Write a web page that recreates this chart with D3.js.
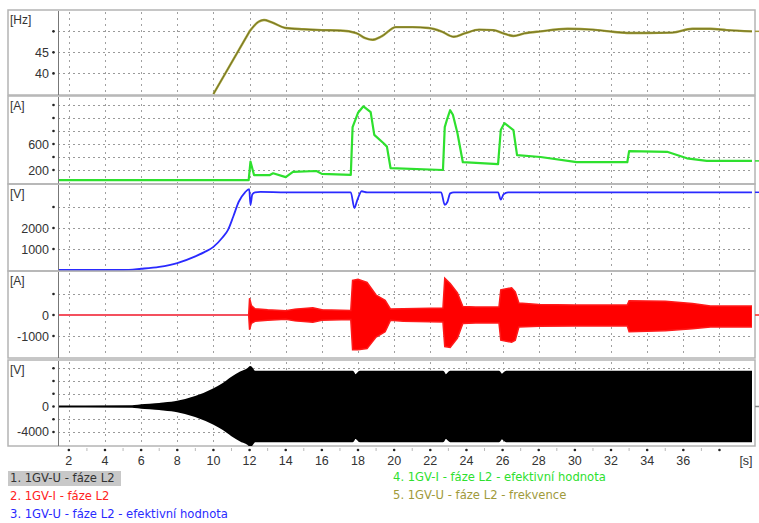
<!DOCTYPE html>
<html>
<head>
<meta charset="utf-8">
<script src="https://cdn.jsdelivr.net/npm/d3@7"></script>
<style>
  html, body { margin: 0; padding: 0; background: #fff; }
  svg { display: block; font-family: "Liberation Sans", Arial, sans-serif; }
</style>
</head>
<body>
<svg id="chart" width="759" height="523"></svg>
<script>
// ---- time axis ----
const timeTicks = [2, 4, 6, 8, 10, 12, 14, 16, 18, 20, 22, 24, 26, 28, 30, 32, 34, 36, 38];
const timeLabels = ["2", "4", "6", "8", "10", "12", "14", "16", "18", "20", "22", "24", "26", "28", "30", "32", "34", "36", ""];
const timeUnit = "[s]";

// ---- 5. frequency [Hz] ----
const freqT = [10.0, 12.0, 12.5, 12.8, 13.2, 14, 15, 16, 17, 17.9, 18.4, 18.8, 19.3, 20.1, 21, 21.9, 22.6, 23.3, 23.9, 24.7, 25.5, 26.0, 26.6, 27.2, 28.1, 29.6, 31, 32.1, 33, 34, 35.4, 36.5, 37.5, 38.4, 39.8];
const freqV = [35.1, 50.0, 52.3, 52.7, 52.2, 50.8, 50.5, 50.3, 50.2, 49.6, 48.4, 48.0, 48.8, 51.0, 51.0, 50.8, 50.0, 48.7, 49.5, 50.4, 50.3, 49.6, 48.9, 49.5, 50.0, 50.6, 50.4, 49.9, 49.6, 49.6, 49.7, 50.6, 50.6, 50.3, 50.0];

// ---- 4. RMS current [A] ----
const rmsIT = [1.4, 11.95, 12.05, 12.25, 13.1, 13.3, 14.0, 14.4, 15.7, 16.0, 17.6, 17.7, 18.0, 18.3, 18.7, 18.9, 19.4, 19.6, 19.8, 22.7, 22.8, 22.95, 23.1, 23.25, 23.5, 23.8, 25.75, 25.9, 26.1, 26.6, 26.8, 28.1, 30.1, 32.9, 33.0, 35.1, 36.2, 37.3, 39.8];
const rmsIV = [45, 45, 330, 120, 120, 150, 90, 170, 185, 140, 125, 860, 1080, 1180, 1090, 740, 615, 560, 230, 200, 860, 1000, 1120, 1050, 770, 320, 290, 815, 920, 815, 430, 400, 320, 320, 490, 480, 380, 340, 340];

// ---- 3. RMS voltage [V] ----
const rmsUT = [1.4, 5.0, 6.0, 7.0, 8.0, 9.0, 9.5, 10.0, 10.5, 10.8, 11.1, 11.4, 11.75, 11.98, 12.05, 12.15, 12.3, 12.6, 14, 17.6, 17.8, 17.95, 18.2, 18.5, 22.6, 22.8, 22.95, 23.1, 23.3, 25.75, 25.9, 26.05, 26.3, 39.8];
const rmsUV = [0, 0, 60, 150, 330, 650, 850, 1100, 1550, 1900, 2550, 3250, 3700, 3850, 3100, 3600, 3700, 3720, 3700, 3700, 2950, 3300, 3750, 3700, 3700, 3100, 3250, 3650, 3700, 3700, 3350, 3600, 3700, 3700];

// ---- 2. phase current envelope [A] ----
const curT  = [11.95, 12.0, 12.1, 12.3, 13, 14, 14.5, 15.5, 16, 17.6, 17.7, 18.0, 18.5, 19.0, 19.5, 19.8, 20.5, 22.7, 22.8, 23.1, 23.5, 23.8, 24.5, 25.8, 25.9, 26.5, 26.7, 26.9, 28, 30, 32.9, 33.0, 35, 36.5, 37.5, 39.8];
const curUp = [0, 800, 450, 300, 250, 200, 280, 350, 250, 220, 1650, 1700, 1550, 950, 700, 280, 300, 330, 1750, 1500, 1050, 400, 380, 380, 1200, 1300, 1100, 570, 500, 480, 480, 680, 650, 550, 430, 430];
const curLo = [0, -700, -400, -300, -250, -200, -280, -350, -250, -220, -1650, -1650, -1600, -1050, -800, -250, -300, -330, -1500, -1550, -1100, -400, -380, -380, -1200, -1300, -1200, -570, -540, -520, -520, -800, -750, -650, -570, -570];

// ---- 1. phase voltage envelope [V] ----
const voltT   = [1.4, 5.5, 6.0, 7.0, 8.0, 9.0, 10.0, 10.5, 11.0, 11.5, 11.9, 12.05, 12.3, 17.7, 17.85, 18.1, 22.7, 22.85, 23.1, 25.8, 25.95, 26.2, 39.8];
const voltAmp = [0, 60, 200, 420, 750, 1500, 2700, 3500, 4500, 5350, 5900, 6200, 5450, 5450, 4900, 5450, 5450, 4900, 5450, 5450, 5000, 5450, 5450];

// ---- legend ----
const legendLabels = [
  "1. 1GV-U - fáze L2",
  "2. 1GV-I - fáze L2",
  "3. 1GV-U - fáze L2 - efektivní hodnota",
  "4. 1GV-I - fáze L2 - efektivní hodnota",
  "5. 1GV-U - fáze L2 - frekvence"
];
const legendColors = ["#333333", "#ff2222", "#2a2aff", "#2ee02e", "#a09a3a"];

// ---- layout ----
const svg = d3.select("#chart");
const frameL = 8, frameR = 755;
const plotL = 58, plotR = 752;
const x = d3.scaleLinear().domain([1.4, 39.8]).range([plotL, plotR]);

const panels = [
  { top: 12,  bottom: 94,  unit: "[Hz]", domain: [35.1, 54.6], grid: [40, 45, 50], dots: [40, 45, 50], labels: [40, 45] },
  { top: 98,  bottom: 183, unit: "[A]",  domain: [0, 1308], grid: [200, 400, 600, 800, 1000, 1200], dots: [200, 400, 600, 800, 1000, 1200], labels: [200, 600] },
  { top: 186, bottom: 270, unit: "[V]",  domain: [0, 4000], grid: [1000, 2000, 3000], dots: [1000, 2000, 3000], labels: [1000, 2000] },
  { top: 273, bottom: 357, unit: "[A]",  domain: [-2000, 2000], grid: [-1000, 0, 1000], dots: [-1000, 0, 1000], labels: [-1000, 0] },
  { top: 362, bottom: 445, unit: "[V]",  domain: [-6040, 6980], grid: [-4000, -2000, 0, 2000, 4000, 6000], dots: [-4000, -2000, 0, 2000, 4000, 6000], labels: [-4000, 0] }
];
panels.forEach(p => { p.y = d3.scaleLinear().domain(p.domain).range([p.bottom, p.top]); });

const defs = svg.append("defs");

panels.forEach((p, i) => {
  const g = svg.append("g");
  // panel frame
  g.append("rect")
    .attr("x", frameL).attr("y", p.top - 2)
    .attr("width", frameR - frameL).attr("height", p.bottom - p.top + 3)
    .attr("fill", "none").attr("stroke", "#b4b4b4").attr("stroke-width", 1.5);

  // horizontal grid
  g.selectAll(null).data(p.grid).join("line")
    .attr("x1", plotL).attr("x2", plotR)
    .attr("y1", d => Math.round(p.y(d)) + 0.5).attr("y2", d => Math.round(p.y(d)) + 0.5)
    .attr("stroke", "#9a9a9a").attr("stroke-dasharray", "2,3");

  // vertical grid
  g.selectAll(null).data(timeTicks).join("line")
    .attr("x1", d => Math.round(x(d)) + 0.5).attr("x2", d => Math.round(x(d)) + 0.5)
    .attr("y1", p.top).attr("y2", p.bottom)
    .attr("stroke", "#a0a0a0").attr("stroke-dasharray", "2,4");

  // y axis line
  g.append("line")
    .attr("x1", plotL + 0.5).attr("x2", plotL + 0.5)
    .attr("y1", p.top - 1).attr("y2", p.bottom + 1)
    .attr("stroke", "#777").attr("stroke-width", 1);

  // tick dots
  g.selectAll(null).data(p.dots).join("circle")
    .attr("cx", 53.5).attr("cy", d => p.y(d))
    .attr("r", 1.3).attr("fill", "#222");

  // tick labels
  g.selectAll(null).data(p.labels).join("text")
    .attr("x", 49).attr("y", d => p.y(d) + 4.5)
    .attr("text-anchor", "end").attr("font-size", 12.5).attr("fill", "#333")
    .text(d => d);

  // unit
  g.append("text")
    .attr("x", 10).attr("y", p.top + 12)
    .attr("font-size", 12).attr("fill", "#333")
    .text(p.unit);

  defs.append("clipPath").attr("id", "clip" + i)
    .append("rect").attr("x", plotL + 1).attr("y", p.top - 1)
    .attr("width", plotR - plotL - 1).attr("height", p.bottom - p.top + 2);
  p.g = svg.append("g").attr("clip-path", `url(#clip${i})`);
});

// ---- series ----
// frequency: straight ramp up to 50 Hz, smooth afterwards
const p0 = panels[0];
const freqPts = d3.zip(freqT, freqV);
const freqLine = d3.line().x(d => x(d[0])).y(d => p0.y(d[1]));
const rampPath = freqLine(freqPts.slice(0, 2));
const restPath = freqLine.curve(d3.curveMonotoneX)(freqPts.slice(1));
[["#a4a23c", 2.4], ["#6f6d1e", 0.9]].forEach(([c, w]) => {
  p0.g.append("path").attr("d", rampPath + restPath.replace(/^M/, "L"))
    .attr("fill", "none").attr("stroke", c).attr("stroke-width", w);
});

// RMS current
const p1 = panels[1];
p1.g.append("path")
  .datum(d3.zip(rmsIT, rmsIV))
  .attr("d", d3.line().x(d => x(d[0])).y(d => p1.y(d[1])))
  .attr("fill", "none").attr("stroke", "#2ee02e").attr("stroke-width", 2.2)
  .attr("stroke-linejoin", "round");

// RMS voltage
const p2 = panels[2];
p2.g.append("path")
  .datum(d3.zip(rmsUT, rmsUV))
  .attr("d", d3.line().x(d => x(d[0])).y(d => p2.y(d[1])).curve(d3.curveMonotoneX))
  .attr("fill", "none").attr("stroke", "#2a2aff").attr("stroke-width", 1.8);

// phase current: quiet zero trace, then the envelope of the oscillation
const p3 = panels[3];
p3.g.append("line")
  .attr("x1", x(1.4)).attr("x2", x(12.0))
  .attr("y1", p3.y(0)).attr("y2", p3.y(0))
  .attr("stroke", "#f4505e").attr("stroke-width", 2.2);
const curData = curT.map((t, i) => [t, curUp[i], curLo[i]]);
p3.g.append("path")
  .datum(curData)
  .attr("d", d3.area().x(d => x(d[0])).y0(d => p3.y(d[2])).y1(d => p3.y(d[1])))
  .attr("fill", "#ff0000").attr("stroke", "#ff1a1a").attr("stroke-width", 1.5);

// phase voltage envelope
const p4 = panels[4];
const voltData = voltT.map((t, i) => [t, voltAmp[i]]);
p4.g.append("path")
  .datum(voltData)
  .attr("d", d3.area().x(d => x(d[0])).y0(d => p4.y(-d[1])).y1(d => p4.y(d[1])).curve(d3.curveMonotoneX))
  .attr("fill", "#000").attr("stroke", "#000").attr("stroke-width", 1.8);

// end-of-trace markers at the right edge
const ends = [
  [p0.y(freqV[freqV.length - 1]), "#a09a3a"],
  [p1.y(rmsIV[rmsIV.length - 1]), "#2ee02e"],
  [p2.y(rmsUV[rmsUV.length - 1]), "#2a2aff"],
  [p3.y(0), "#ff2222"],
  [p4.y(0), "#888"]
];
svg.selectAll(null).data(ends).join("line")
  .attr("x1", 755).attr("x2", 759)
  .attr("y1", d => d[0]).attr("y2", d => d[0])
  .attr("stroke", d => d[1]).attr("stroke-width", 1.5);

// ---- time axis ----
const ax = svg.append("g");
ax.selectAll(null).data(timeTicks).join("circle")
  .attr("cx", d => x(d)).attr("cy", 450).attr("r", 1.3).attr("fill", "#222");
ax.selectAll(null).data(d3.range(3, 39, 2)).join("line")
  .attr("x1", d => x(d)).attr("x2", d => x(d))
  .attr("y1", 448).attr("y2", 451).attr("stroke", "#bbb");
ax.selectAll(null).data(timeTicks).join("text")
  .attr("x", d => x(d)).attr("y", 465)
  .attr("text-anchor", "middle").attr("font-size", 12.5).attr("fill", "#333")
  .text((d, i) => timeLabels[i]);
ax.append("text").attr("x", 746).attr("y", 465)
  .attr("text-anchor", "middle").attr("font-size", 12.5).attr("fill", "#333")
  .text(timeUnit);

// ---- legend ----
const legPos = [[10, 482], [10, 500], [10, 518], [393, 481], [393, 499]];
svg.append("rect").attr("x", 8).attr("y", 471).attr("width", 113).attr("height", 15).attr("fill", "#c8c8c8");
svg.selectAll(null).data(legendLabels).join("text")
  .attr("x", (d, i) => legPos[i][0]).attr("y", (d, i) => legPos[i][1])
  .attr("font-family", "'DejaVu Sans', sans-serif")
  .attr("font-size", 11.6).attr("fill", (d, i) => legendColors[i])
  .text(d => d);
</script>
</body>
</html>
